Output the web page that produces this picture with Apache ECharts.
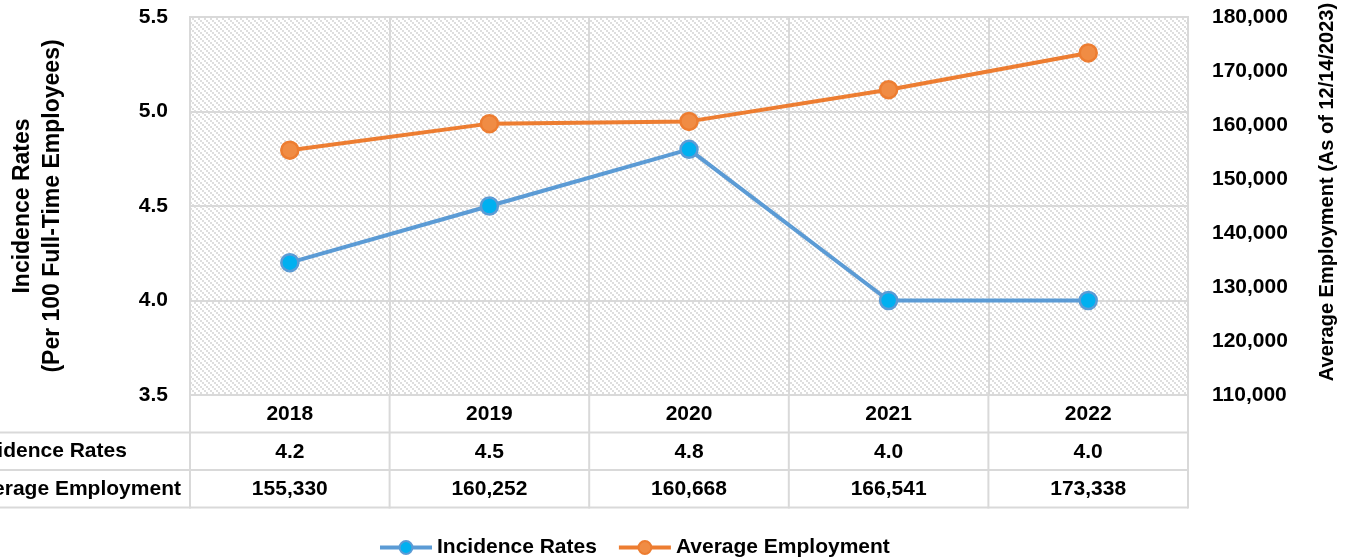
<!DOCTYPE html>
<html><head><meta charset="utf-8">
<script src="https://cdn.jsdelivr.net/npm/echarts@6/dist/echarts.min.js"></script>
<style>html,body{margin:0;padding:0;background:#fff}#c{width:1346px;height:560px}</style>
</head><body><div id="c"></div>
<script>
const years = ['2018','2019','2020','2021','2022'];
const incidenceRates = [4.2, 4.5, 4.8, 4.0, 4.0];
const avgEmployment = [155330, 160252, 160668, 166541, 173338];
const rowLabels = ['Incidence Rates', 'Average Employment'];
const seriesNames = ['Incidence Rates', 'Average Employment'];
const leftTitle = 'Incidence Rates\n(Per 100 Full-Time Employees)';
const rightTitle = 'Average Employment (As of 12/14/2023)';

const FONT = '"Liberation Sans", Arial, sans-serif';
const FS = 21;
const FW = 'bold';
const G = {left:190, right:158, top:17, bottom:165};
const W = 1346, H = 560;
const plotR = W - G.right, plotB = H - G.bottom;
const ROW = 37.5;
const gray = '#d9d9d9';
const txt = (extra) => Object.assign({fontFamily:FONT,fontSize:FS,fontWeight:FW,color:'#000'}, extra||{});

// hatch pattern (diagonal chain of 2x2 blocks)
const pc = document.createElement('canvas');
pc.width = 6; pc.height = 6;
const px = pc.getContext('2d');
px.fillStyle = '#ffffff'; px.fillRect(0,0,6,6);
px.fillStyle = '#dedede';
for (let i=0;i<3;i++){ px.fillRect(2*i,2*i,2,2); }

const fmtInt = v => v.toLocaleString('en-US');
const chart = echarts.init(document.getElementById('c'));

const lines = [];
const colX = [];
for (let i=0;i<=years.length;i++) colX.push(G.left + (plotR-G.left)*i/years.length);
colX.forEach(x => lines.push({type:'line', shape:{x1:x,y1:plotB,x2:x,y2:plotB+3*ROW+1}, style:{stroke:gray,lineWidth:2}, z:1}));
[1,2,3].forEach(k => lines.push({type:'line', shape:{x1:0,y1:plotB+k*ROW,x2:plotR,y2:plotB+k*ROW}, style:{stroke:gray,lineWidth:2}, z:1}));

chart.setOption({
  animation:false,
  textStyle:{fontFamily:FONT,fontWeight:FW},
  grid:{left:G.left,right:G.right,top:G.top,bottom:G.bottom,show:true,borderColor:gray,borderWidth:2,backgroundColor:'transparent'},
  legend:{top:532,left:373,itemWidth:52,itemHeight:16,itemGap:20,
    lineStyle:{width:4},
    textStyle:txt(),data:seriesNames},
  graphic:[
    {type:'rect', shape:{x:G.left,y:G.top,width:plotR-G.left,height:plotB-G.top}, style:{fill:{image:pc,repeat:'repeat'}}, z:-10, silent:true},
    ...lines,
    ...rowLabels.map((t,k)=>({type:'text', x:-33, y:plotB+(k+1)*ROW+ROW/2, style:{text:t, fontFamily:FONT,fontSize:FS,fontWeight:FW,fill:'#000',textVerticalAlign:'middle',textAlign:'left'}, z:2})),
    {type:'text', x:1327, y:192, rotation:Math.PI/2, style:{text:rightTitle, fontFamily:FONT,fontSize:20,fontWeight:FW,fill:'#000',textAlign:'center',textVerticalAlign:'middle'}, z:2}
  ],
  xAxis:[
    {type:'category',data:years,boundaryGap:true,position:'bottom',
      axisLine:{show:true,lineStyle:{color:gray,width:2}},axisTick:{show:false},
      splitLine:{show:true,lineStyle:{color:gray,width:2}},
      axisLabel:txt({margin:9})},
    {type:'category',data:incidenceRates.map(v=>v.toFixed(1)),boundaryGap:true,position:'bottom',offset:ROW,
      axisLine:{show:false},axisTick:{show:false},splitLine:{show:false},
      axisLabel:txt({margin:9})},
    {type:'category',data:avgEmployment.map(fmtInt),boundaryGap:true,position:'bottom',offset:2*ROW,
      axisLine:{show:false},axisTick:{show:false},splitLine:{show:false},
      axisLabel:txt({margin:9})}
  ],
  yAxis:[
    {type:'value',min:3.5,max:5.5,interval:0.5,position:'left',
      name:leftTitle,nameLocation:'middle',nameGap:122,
      nameTextStyle:txt({fontSize:23,lineHeight:30}),
      axisLine:{show:false},axisTick:{show:false},
      splitLine:{show:true,lineStyle:{color:gray,width:2}},
      axisLabel:txt({margin:22,formatter:v=>v.toFixed(1)})},
    {type:'value',min:110000,max:180000,interval:10000,position:'right',
      axisLine:{show:false},axisTick:{show:false},splitLine:{show:false},
      axisLabel:txt({margin:24,formatter:fmtInt})}
  ],
  series:[
    {name:seriesNames[0],type:'line',data:incidenceRates,xAxisIndex:0,yAxisIndex:0,
      symbol:'circle',symbolSize:17,lineStyle:{color:'#5B9BD5',width:4},
      itemStyle:{color:'#00B0F0',borderColor:'#5B9BD5',borderWidth:2.5},z:5},
    {name:seriesNames[1],type:'line',data:avgEmployment,xAxisIndex:0,yAxisIndex:1,
      symbol:'circle',symbolSize:17,lineStyle:{color:'#ED7D31',width:4},
      itemStyle:{color:'#F08C44',borderColor:'#ED7D31',borderWidth:2.5},z:5}
  ]
});
</script></body></html>
